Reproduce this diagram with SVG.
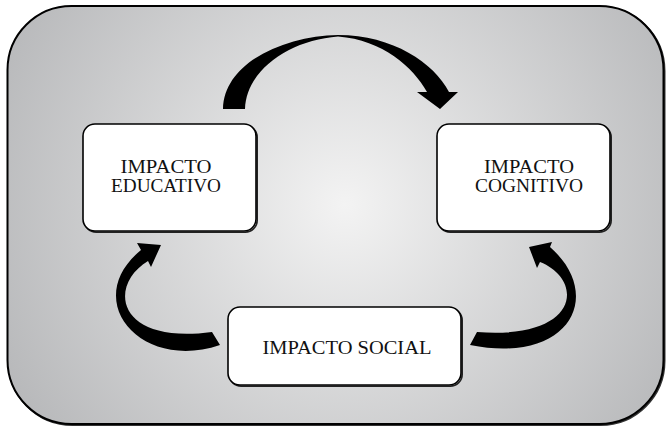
<svg xmlns="http://www.w3.org/2000/svg" width="667" height="428" viewBox="0 0 667 428">
<defs>
<radialGradient id="bg" gradientUnits="userSpaceOnUse" cx="345" cy="205" r="390">
<stop offset="0" stop-color="#f3f3f3"/>
<stop offset="1" stop-color="#b6b7b9"/>
</radialGradient>
</defs>
<style>
.box{fill:#ffffff;stroke:#000;stroke-width:1.6}
.shadow{fill:none;stroke:#222;stroke-width:1.6}
.lbl{font-family:"Liberation Serif","Times New Roman",serif;font-size:19px;fill:#111;text-anchor:middle}
.arrow{fill:#000}
</style>
<rect x="8.5" y="7" width="656" height="418" rx="64" fill="none" stroke="#333" stroke-width="2"/>
<rect x="7.5" y="6" width="656" height="418" rx="64" fill="url(#bg)" stroke="#000" stroke-width="2"/>
<g id="connectors">
<path class="arrow" d="M223,109 C224,62 285,36 338,35 C393,35 434,63 449,92 L458,92 L440,109 L417,92 L427,92 C413,67 383,40 338,36.5 C290,40 246,70 245,109 Z"/>
<path class="arrow" d="M141,250 L137,243 L161,245 L151,267 L148,261 C108,285 115,345 212,332 L220,345 C140,372 80,300 141,250 Z"/>
<path class="arrow" d="M550,247 L552,242 L529,247 L537,268 L540,262 C585,280 580,340 477,332 L470,345 C570,365 605,295 550,247 Z"/>
</g>
<g id="node-educativo">
<rect class="shadow" x="84.2" y="125.2" width="173" height="107" rx="12"/>
<rect class="box" x="83" y="124" width="173" height="107" rx="12"/>
<text class="lbl" x="166" y="173" textLength="91" lengthAdjust="spacingAndGlyphs">IMPACTO</text>
<text class="lbl" x="166" y="192" textLength="110" lengthAdjust="spacingAndGlyphs">EDUCATIVO</text>
</g>
<g id="node-cognitivo">
<rect class="shadow" x="438.2" y="125.2" width="173" height="107" rx="12"/>
<rect class="box" x="437" y="124" width="173" height="107" rx="12"/>
<text class="lbl" x="529" y="173" textLength="90" lengthAdjust="spacingAndGlyphs">IMPACTO</text>
<text class="lbl" x="529" y="192" textLength="108" lengthAdjust="spacingAndGlyphs">COGNITIVO</text>
</g>
<g id="node-social">
<rect class="shadow" x="229.2" y="308.2" width="233" height="78" rx="12"/>
<rect class="box" x="228" y="307" width="233" height="78" rx="12"/>
<text class="lbl" x="347" y="354" textLength="169" lengthAdjust="spacingAndGlyphs">IMPACTO SOCIAL</text>
</g>
</svg>
